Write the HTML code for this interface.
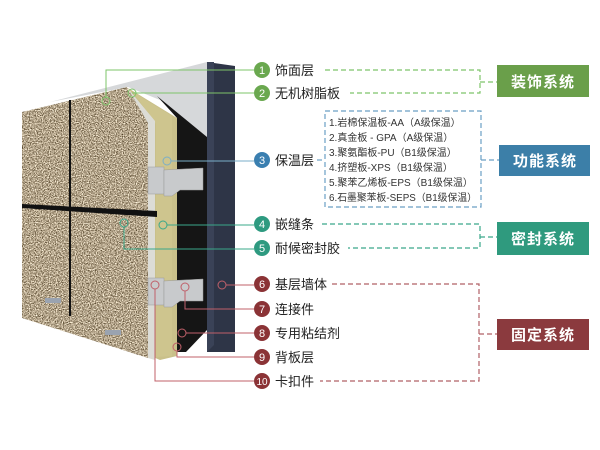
<!DOCTYPE html>
<html><head><meta charset="utf-8"><style>
html,body{margin:0;padding:0;background:#fff;}
svg{display:block;font-family:"Liberation Sans","Noto Sans CJK SC",sans-serif;}
</style></head><body>
<svg width="600" height="450" viewBox="0 0 600 450" xmlns="http://www.w3.org/2000/svg">
<defs>
<filter id="stone" x="0" y="0" width="100%" height="100%" color-interpolation-filters="sRGB">
<feTurbulence type="fractalNoise" baseFrequency="0.85" numOctaves="2" seed="5" result="n"/>
<feColorMatrix in="n" type="matrix" values="1.4 0 0 0 0.0  1.4 0 0 0 -0.06  1.4 0 0 0 -0.16  0 0 0 0 1" result="c"/>
<feComposite in="c" in2="SourceGraphic" operator="in"/>
</filter>
</defs>
<polygon points="50,102 207,62 207,137 160,100 128,87" fill="#d6d8da"/>
<polygon points="207,62 235,66 235,352 207,352" fill="#2e3547"/>
<polygon points="207,62 214,62 214,345 207,352" fill="#3a4257"/>
<polygon points="157,96 207,137 207,330 186,352 177,352 177,118" fill="#151515"/>
<polygon points="128,88 177,118 177,356 160,360 153,357 153,122" fill="#c9c08a"/>
<polygon points="133,92 172,116 172,356 156,357 156,124" fill="#d2c891" opacity="0.6"/>
<polygon points="126,86 155,121 155,360 148,358 148,124" fill="#dcdcd6"/>
<polygon points="22,112 127,87 148,123 148,358 22,318" fill="#b7a68c" filter="url(#stone)"/>
<line x1="70" y1="100" x2="70" y2="316" stroke="#111" stroke-width="2"/>
<polygon points="22,204 157,211 157,217 22,208" fill="#111"/>
<rect x="45" y="298" width="16" height="5" fill="#9aa3b0"/>
<rect x="105" y="330" width="16" height="5" fill="#9aa3b0"/>
<g fill="#c8cacc" stroke="#999" stroke-width="0.5">
<rect x="148" y="167" width="16" height="27"/><polygon points="164,170 203,168 203,190 180,190 172,196 164,196"/>
<rect x="148" y="278" width="16" height="27"/><polygon points="164,281 203,279 203,301 180,301 172,307 164,307"/>
</g>
<g fill="none" stroke-width="1">
<g stroke="#7ec46a"><polyline points="106,98 106,70 254,70"/><line x1="132" y1="93" x2="254" y2="93"/>
<circle cx="106" cy="101" r="4"/><circle cx="132" cy="93" r="4"/></g>
<g stroke="#7aaec8"><line x1="171" y1="161" x2="254" y2="161"/><circle cx="167" cy="161" r="4"/></g>
<g stroke="#3aa88a"><line x1="167" y1="225" x2="254" y2="225"/><circle cx="163" cy="225" r="4"/>
<polyline points="124,227 124,249 254,249"/><circle cx="124" cy="223" r="4"/></g>
<g stroke="#c0606a"><line x1="226" y1="285" x2="254" y2="285"/><circle cx="222" cy="285" r="4"/>
<polyline points="185,291 185,309 254,309"/><circle cx="185" cy="287" r="4"/>
<line x1="186" y1="333" x2="254" y2="333"/><circle cx="182" cy="333" r="4"/>
<polyline points="177,351 177,357 254,357"/><circle cx="177" cy="347" r="4"/>
<polyline points="155,289 155,381 254,381"/><circle cx="155" cy="285" r="4"/></g>
</g>
<g font-size="11" text-anchor="middle" fill="#fff">
<circle cx="262" cy="70" r="8" fill="#6aa84f"/><text x="262" y="74">1</text>
<circle cx="262" cy="93" r="8" fill="#6aa84f"/><text x="262" y="97">2</text>
<circle cx="262" cy="160" r="8" fill="#3a7fb0"/><text x="262" y="164">3</text>
<circle cx="262" cy="224" r="8" fill="#2e9a80"/><text x="262" y="228">4</text>
<circle cx="262" cy="248" r="8" fill="#2e9a80"/><text x="262" y="252">5</text>
<circle cx="262" cy="284" r="8" fill="#8b3336"/><text x="262" y="288">6</text>
<circle cx="262" cy="309" r="8" fill="#8b3336"/><text x="262" y="313">7</text>
<circle cx="262" cy="333" r="8" fill="#8b3336"/><text x="262" y="337">8</text>
<circle cx="262" cy="357" r="8" fill="#8b3336"/><text x="262" y="361">9</text>
<circle cx="262" cy="381" r="8" fill="#8b3336"/><text x="262" y="385" font-size="10">10</text>
</g>
<g font-size="13" fill="#222">
<text x="275" y="75">饰面层</text><text x="275" y="98">无机树脂板</text>
<text x="275" y="165">保温层</text><text x="275" y="229">嵌缝条</text><text x="275" y="253">耐候密封胶</text>
<text x="275" y="289">基层墙体</text><text x="275" y="314">连接件</text><text x="275" y="338">专用粘结剂</text>
<text x="275" y="362">背板层</text><text x="275" y="386">卡扣件</text>
</g>
<g fill="none" stroke-dasharray="5,3" stroke-width="1.2">
<g stroke="#7ec46a"><polyline points="325,70 480,70 480,93 350,93"/><line x1="480" y1="82" x2="497" y2="82"/></g>
<g stroke="#6a9fc4"><rect x="325" y="111" width="156" height="96"/><line x1="481" y1="160" x2="499" y2="160"/><line x1="317" y1="160" x2="325" y2="160"/></g>
<g stroke="#3aa88a"><polyline points="322,224 480,224 480,248 348,248"/><line x1="480" y1="237" x2="497" y2="237"/></g>
<g stroke="#b06066"><polyline points="332,284 479,284 479,381 320,381"/><line x1="479" y1="334" x2="497" y2="334"/></g>
</g>
<g font-size="10" fill="#333">
<text x="329" y="126">1.岩棉保温板-AA（A级保温）</text>
<text x="329" y="141">2.真金板 - GPA（A级保温）</text>
<text x="329" y="156">3.聚氨酯板-PU（B1级保温）</text>
<text x="329" y="171">4.挤塑板-XPS（B1级保温）</text>
<text x="329" y="186">5.聚苯乙烯板-EPS（B1级保温）</text>
<text x="329" y="201" textLength="148" lengthAdjust="spacingAndGlyphs">6.石墨聚苯板-SEPS（B1级保温）</text>
</g>
<rect x="497" y="65" width="92" height="32" fill="#6a9f4a"/>
<rect x="499" y="145" width="91" height="31" fill="#3c7fa8"/>
<rect x="497" y="222" width="92" height="33" fill="#2f9a7e"/>
<rect x="497" y="319" width="92" height="31" fill="#8b3a3e"/>
<g font-size="15" font-weight="bold" fill="#fff" text-anchor="middle" letter-spacing="1">
<text x="543" y="87">装饰系统</text><text x="545" y="166">功能系统</text>
<text x="543" y="244">密封系统</text><text x="543" y="340">固定系统</text>
</g>
</svg>
</body></html>
